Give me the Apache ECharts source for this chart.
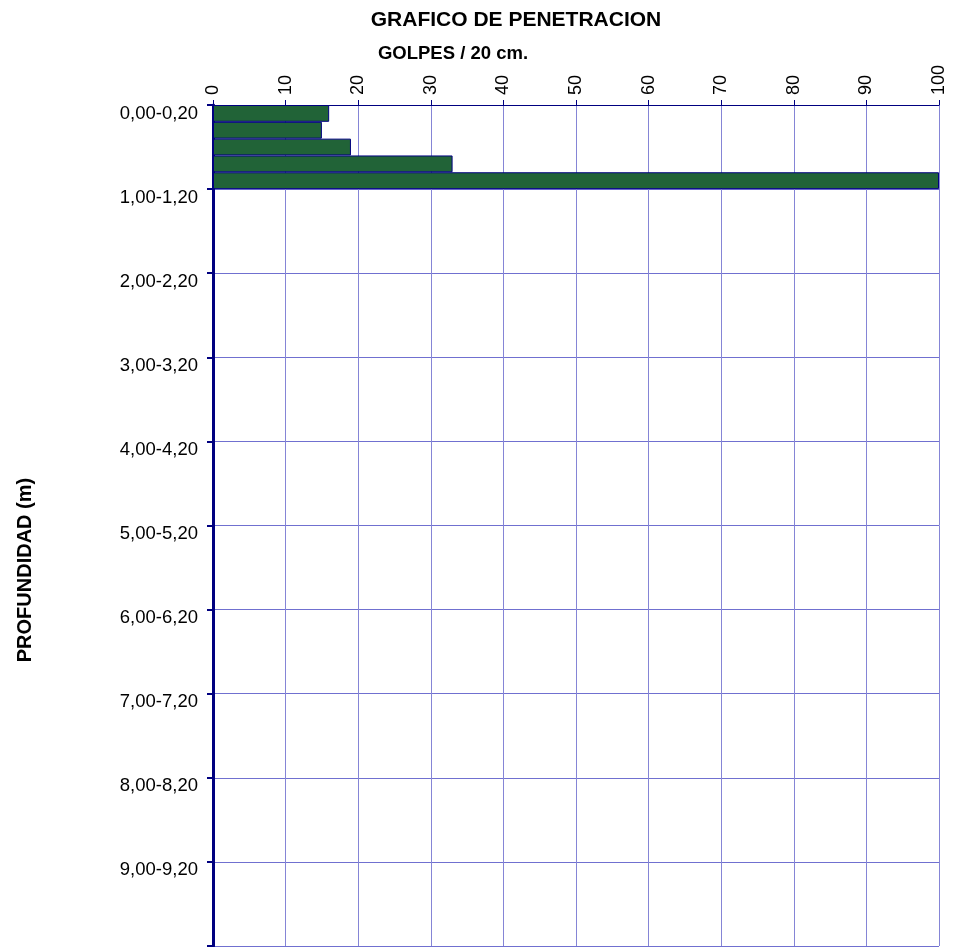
<!DOCTYPE html>
<html>
<head>
<meta charset="utf-8">
<script src="https://cdn.jsdelivr.net/npm/echarts@6/dist/echarts.min.js"></script>
<style>html,body{margin:0;padding:0;background:#fff}#c{width:955px;height:947px}</style>
</head>
<body>
<div id="c"></div>
<script>
const depthCategories = [
  "0,00-0,20","0,20-0,40","0,40-0,60","0,60-0,80","0,80-1,00",
  "1,00-1,20","1,20-1,40","1,40-1,60","1,60-1,80","1,80-2,00",
  "2,00-2,20","2,20-2,40","2,40-2,60","2,60-2,80","2,80-3,00",
  "3,00-3,20","3,20-3,40","3,40-3,60","3,60-3,80","3,80-4,00",
  "4,00-4,20","4,20-4,40","4,40-4,60","4,60-4,80","4,80-5,00",
  "5,00-5,20","5,20-5,40","5,40-5,60","5,60-5,80","5,80-6,00",
  "6,00-6,20","6,20-6,40","6,40-6,60","6,60-6,80","6,80-7,00",
  "7,00-7,20","7,20-7,40","7,40-7,60","7,60-7,80","7,80-8,00",
  "8,00-8,20","8,20-8,40","8,40-8,60","8,60-8,80","8,80-9,00",
  "9,00-9,20","9,20-9,40","9,40-9,60","9,60-9,80","9,80-10,00"
];
const golpes = [16, 15, 19, 33, 100];
const titleText = "GRAFICO DE PENETRACION";
const subtitleText = "GOLPES / 20 cm.";
const yAxisTitle = "PROFUNDIDAD (m)";

const FONT = "'Liberation Sans', Arial, sans-serif";
const chart = echarts.init(document.getElementById('c'), null, {renderer: 'canvas'});
chart.setOption({
  animation: false,
  backgroundColor: '#ffffff',
  title: [
    {text: titleText, left: 511, top: 5, textAlign: 'center',
     textStyle: {fontFamily: FONT, fontSize: 21, fontWeight: 'bold', color: '#000'}},
    {text: subtitleText, left: 448, top: 39, textAlign: 'center',
     textStyle: {fontFamily: FONT, fontSize: 18.5, fontWeight: 'bold', color: '#000'}}
  ],
  graphic: [{
    type: 'text', x: 25, y: 570, rotation: Math.PI / 2,
    style: {text: yAxisTitle, fontFamily: FONT, fontSize: 20, fontWeight: 'bold', fill: '#000',
            textAlign: 'center', textVerticalAlign: 'middle'}
  }],
  grid: {left: 213, right: 16, top: 105, bottom: 1, containLabel: false},
  xAxis: {
    type: 'value', position: 'top', min: 0, max: 100, interval: 10,
    axisLine: {show: true, lineStyle: {color: '#000080', width: 1}},
    axisTick: {show: true, length: 5, lineStyle: {color: '#000080', width: 1}},
    axisLabel: {rotate: -90, margin: 10, fontFamily: FONT, fontSize: 18, color: '#000'},
    splitLine: {show: true, lineStyle: {color: '#8585d6', width: 1}}
  },
  yAxis: {
    type: 'category', inverse: true, data: depthCategories, boundaryGap: true,
    axisLine: {show: true, lineStyle: {color: '#000080', width: 3}},
    axisTick: {show: true, interval: 4, length: 6, lineStyle: {color: '#000080', width: 2}},
    axisLabel: {interval: 4, margin: 15, fontFamily: FONT, fontSize: 18.5, color: '#000'},
    splitLine: {show: true, interval: 4, lineStyle: {color: '#7070d0', width: 1}}
  },
  series: [{
    type: 'bar', data: golpes, barCategoryGap: '0%', barWidth: '100%',
    itemStyle: {color: '#216337', borderColor: '#000080', borderWidth: 1}
  }]
});
</script>
</body>
</html>
